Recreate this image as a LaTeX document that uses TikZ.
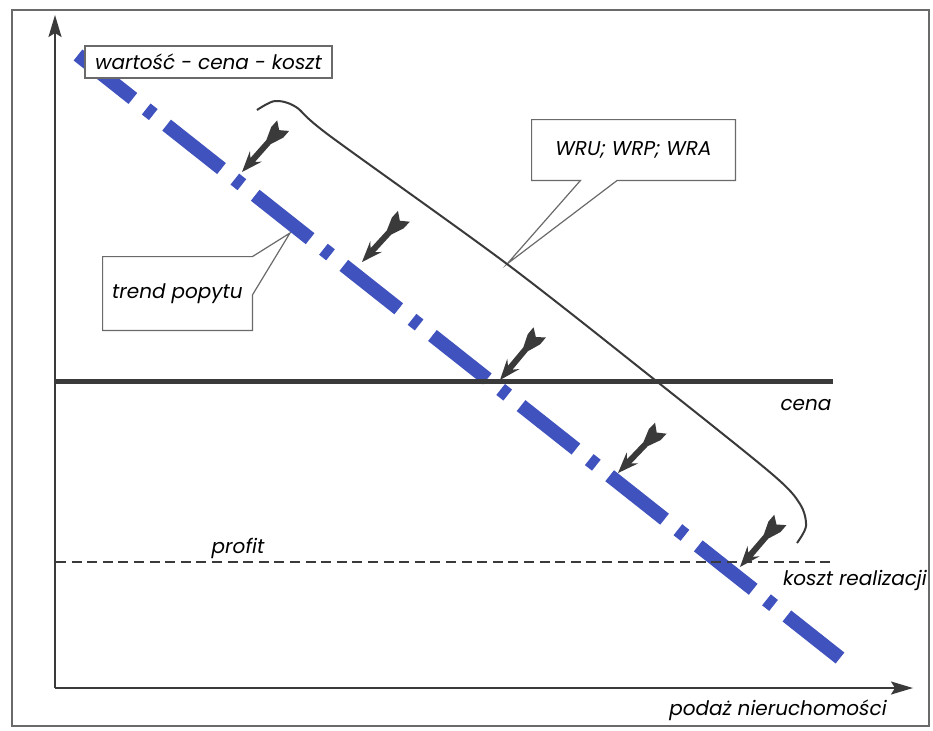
\documentclass[tikz,border=0pt]{standalone}
\usepackage{fontspec}
\setmainfont{Poppins}
\usepackage{xcolor}
\definecolor{trendblue}{HTML}{4052BE}
\definecolor{ink}{HTML}{3A3A3A}
\definecolor{framegrey}{HTML}{6A6A6A}
\usetikzlibrary{arrows.meta,positioning,calc,backgrounds}
\tikzset{dart/.pic={
  \fill[ink] (0,0) -- (21,-8) -- (16,-3) -- (40,-3) -- (53,-8) -- (62,-8) -- (56,0)
    -- (62,8) -- (53,8) -- (40,3) -- (16,3) -- (21,8) -- cycle;
}}

\begin{document}
\begin{tikzpicture}[x=0.5pt, y=-0.5pt, font=\fontsize{10}{12}\selectfont\itshape,
  axis/.style={-{Stealth[length=11pt, width=6.5pt, inset=2pt]}, line width=1pt, color=ink},
  trend/.style={line width=7pt, color=trendblue, dash pattern=on 35pt off 8.5pt on 4.5pt off 8.5pt},
  labelbox/.style={draw=framegrey, line width=0.6pt, fill=white, inner sep=2pt},
  callout/.style={draw=framegrey, line width=0.6pt, fill=white}]
\useasboundingbox (0,0) rectangle (933,730);
\draw[framegrey, line width=0.8pt] (12,10) rectangle (929,726);
\coordinate (o) at (55,688);
\coordinate (ytop) at (55,15);
\coordinate (xend) at (913,688);
\draw[axis] (o) -- (ytop);
\draw[axis] (o) -- (xend);
\coordinate (tstart) at (78,55);
\coordinate (tend) at (840,658);
\draw[trend] (tstart) -- (tend);
\coordinate (cstart) at (56,381);
\coordinate (cend) at (833,381);
\draw[ink, line width=2.5pt] (cstart) -- (cend);
\coordinate (pstart) at (56,562);
\coordinate (pend) at (832,562);
\draw[ink, line width=1.3pt, dash pattern=on 5pt off 2.8pt] (pstart) -- (pend);
\draw[ink, line width=1pt] plot[smooth, tension=0.5] coordinates {(257,110) (275,101) (296,107) (330,136) (507,264) (655,380) (772,474) (800,504) (806,526) (797,543)};
\pic[rotate=48.4] at (242,172) {dart};
\pic[rotate=47.5] at (362,262) {dart};
\pic[rotate=50.2] at (500,380) {dart};
\pic[rotate=46.3] at (618,473) {dart};
\pic[rotate=49.4] at (740,567) {dart};
\node[labelbox, minimum width=123.5pt, minimum height=16pt] (wck) at (208.5,62) {wartość - cena - koszt};
\coordinate (wrutip) at (507,264);
\node[minimum width=101.5pt, minimum height=30pt] (wru) at (633.5,150) {WRU; WRP; WRA};
\coordinate (tptip) at (290,233);
\node[minimum width=74.5pt, minimum height=36.5pt] (tp) at (177.5,293.5) {trend popytu};
\begin{scope}[on background layer]
\draw[callout] (wru.north west) -- (wru.north east) -- (wru.south east)
  -- ($(wru.south west)!0.42!(wru.south east)$) -- (wrutip)
  -- ($(wru.south west)!0.24!(wru.south east)$) -- (wru.south west) -- cycle;
\draw[callout] (tp.north west) -- (tp.north east) -- (tptip)
  -- ($(tp.north east)!0.52!(tp.south east)$) -- (tp.south east) -- (tp.south west) -- cycle;
\end{scope}
\node (cena) at (806,405) {cena};
\node (profit) at (238,548) {profit};
\node (koszt) at (855,580) {koszt realizacji};
\node (podaz) at (778,710) {podaż nieruchomości};
\end{tikzpicture}
\end{document}
